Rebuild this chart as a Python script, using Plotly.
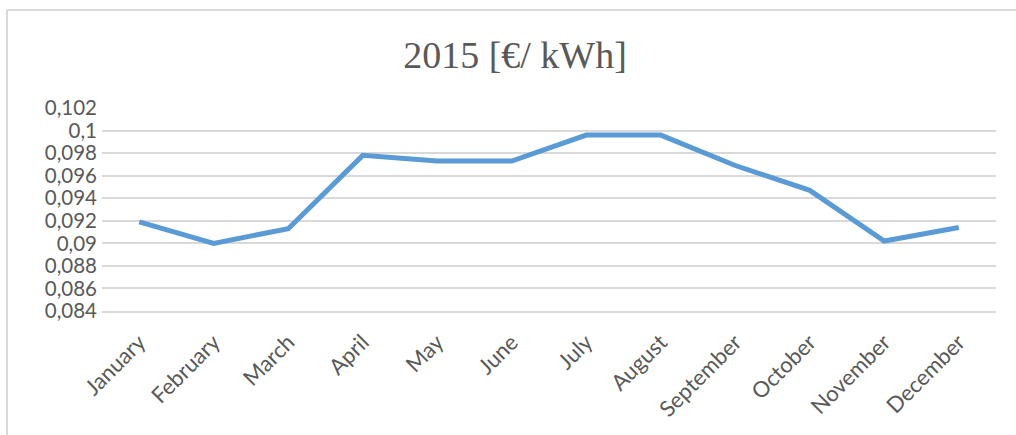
import plotly.graph_objects as go

months = ["January", "February", "March", "April", "May", "June", "July",
          "August", "September", "October", "November", "December"]
prices = [0.0919, 0.0900, 0.0913, 0.0978, 0.0973, 0.0973, 0.0996,
          0.0996, 0.0969, 0.0947, 0.0902, 0.0914]
y_ticks = [0.084, 0.086, 0.088, 0.090, 0.092, 0.094, 0.096, 0.098, 0.100, 0.102]
y_tick_labels = ["0,084", "0,086", "0,088", "0,09", "0,092", "0,094",
                 "0,096", "0,098", "0,1", "0,102"]
title_text = "2015 [€/ kWh]"

W, H = 1016, 435
L, R, T, B = 102, 20, 108, 124
pw, ph = W - L - R, H - T - B

fig = go.Figure()
fig.add_trace(go.Scatter(
    x=list(range(len(months))), y=prices, mode="lines",
    line=dict(color="#5B9BD5", width=5), hoverinfo="skip"))

gray = "#595959"
fig.update_layout(
    width=W, height=H,
    margin=dict(l=L, r=R, t=T, b=B, autoexpand=False),
    paper_bgcolor="white", plot_bgcolor="white",
    showlegend=False,
    title=dict(text=title_text, x=515 / W, xanchor="center",
               y=1 - 55 / H, yanchor="middle",
               font=dict(family="Liberation Serif", size=38, color=gray)),
    xaxis=dict(range=[-0.5, len(months) - 0.5], tickmode="array",
               tickvals=list(range(len(months))), ticktext=months,
               tickangle=-45, showgrid=False, zeroline=False,
               showline=True, linecolor="#D9D9D9", linewidth=1.5,
               ticks="", automargin=False,
               ticklabelstandoff=8,
               tickfont=dict(family="Lato", size=22, color=gray)),
    yaxis=dict(range=[0.084, 0.102], tickmode="array", tickvals=y_ticks,
               ticktext=y_tick_labels, showgrid=True, gridcolor="#D9D9D9",
               gridwidth=1.5, zeroline=False, showline=False, ticks="",
               automargin=False, ticklabelstandoff=4,
               tickfont=dict(family="Lato", size=20.5, color=gray)),
)

# chart frame (left and top border)
fig.add_shape(type="line", xref="paper", yref="paper",
              x0=(7 - L) / pw, x1=(7 - L) / pw, y0=-(B + 5) / ph, y1=(H - 10 - B) / ph,
              line=dict(color="#D9D9D9", width=2))
fig.add_shape(type="line", xref="paper", yref="paper",
              x0=(7 - L) / pw, x1=(W + 5 - L) / pw, y0=(H - 10 - B) / ph, y1=(H - 10 - B) / ph,
              line=dict(color="#D9D9D9", width=2))

fig.write_html("out.html", config={"displayModeBar": False},
               post_script="document.body.style.margin='0';")
